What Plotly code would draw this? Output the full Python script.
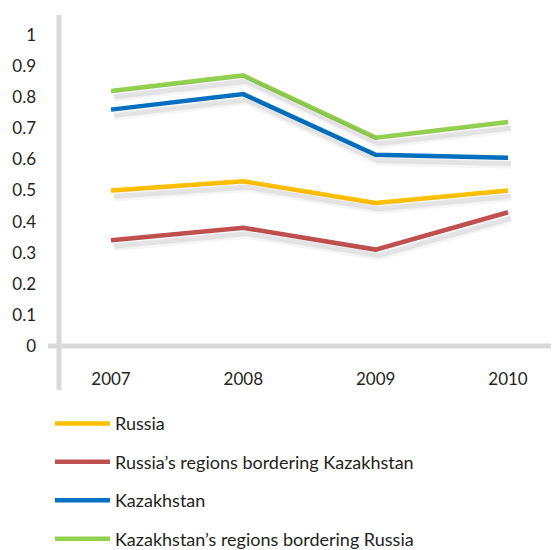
import plotly.graph_objects as go

years = [2007, 2008, 2009, 2010]
russia = [0.50, 0.53, 0.46, 0.50]
russia_border = [0.34, 0.38, 0.31, 0.43]
kazakhstan = [0.76, 0.81, 0.615, 0.605]
kazakhstan_border = [0.82, 0.87, 0.67, 0.72]
y_ticks = [0, 0.1, 0.2, 0.3, 0.4, 0.5, 0.6, 0.7, 0.8, 0.9, 1]
y_tick_labels = ["0", "0.1", "0.2", "0.3", "0.4", "0.5", "0.6", "0.7", "0.8", "0.9", "1"]

series = [
    ("Russia", russia, "#ffc000"),
    ("Russia’s regions bordering Kazakhstan", russia_border, "#c0504d"),
    ("Kazakhstan", kazakhstan, "#0070c0"),
    ("Kazakhstan’s regions bordering Russia", kazakhstan_border, "#92d050"),
]

FONT = "Lato"
# page body has an 8px default margin, so the figure is drawn 8px smaller
W, H = 551, 542
L, T, B = 51, 7, 204
plot_w = W - L
plot_h = H - T - B
px_year = 132.33
x0 = 2007 - 52 / px_year
xr = [x0, x0 + plot_w / px_year]
px_unit = 311.0
yr = [0, plot_h / px_unit]

fig = go.Figure()

# soft shadows, drawn on an offset overlay axis
dx, dy = 3, 6
for name, vals, color in series:
    for wdt, op in [(10, 0.04), (5, 0.07)]:
        fig.add_trace(go.Scatter(
            x=years, y=vals, mode="lines", xaxis="x2", yaxis="y2",
            line=dict(color=f"rgba(0,0,0,{op})", width=wdt),
            showlegend=False, hoverinfo="skip",
        ))

for i, (name, vals, color) in enumerate(series):
    fig.add_trace(go.Scatter(
        x=years, y=vals, mode="lines", name=name,
        line=dict(color=color, width=4.5),
        legendgroup=f"g{i}",
    ))

fig.update_layout(
    width=W, height=H,
    margin=dict(l=L, r=0, t=T, b=B, autoexpand=False),
    plot_bgcolor="white", paper_bgcolor="white",
    font=dict(family=FONT, size=17, color="#231f20"),
    xaxis=dict(range=xr, tickvals=years, ticktext=[str(y) for y in years],
               showgrid=False, zeroline=False, showline=False, ticks="",
               ticklabelstandoff=21, automargin=False),
    yaxis=dict(range=yr, tickvals=y_ticks, ticktext=y_tick_labels,
               showgrid=False, zeroline=False, showline=False, ticks="",
               ticklabelstandoff=22, automargin=False),
    xaxis2=dict(range=[xr[0] - dx / px_year, xr[1] - dx / px_year], overlaying="x",
                visible=False),
    yaxis2=dict(range=[yr[0] + dy / px_unit, yr[1] + dy / px_unit], overlaying="y",
                visible=False),
    showlegend=True,
    legend=dict(x=-0.018, y=-0.179, xanchor="left", yanchor="top",
                orientation="v", tracegroupgap=12, itemwidth=55,
                font=dict(family=FONT, size=18, color="#231f20")),
    shapes=[
        dict(type="line", xref="paper", yref="paper", x0=0, x1=0,
             y0=-44 / plot_h, y1=1, line=dict(color="#d9d9d9", width=5), layer="below"),
        dict(type="line", xref="paper", yref="paper", x0=-11 / plot_w, x1=1,
             y0=0, y1=0, line=dict(color="#d9d9d9", width=5), layer="below"),
    ],
)

fig.write_html("out.html")
